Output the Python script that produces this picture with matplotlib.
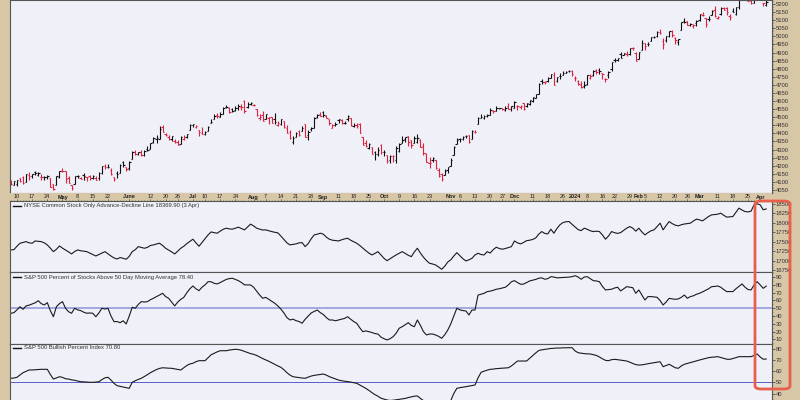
import matplotlib.pyplot as plt
import numpy as np
import pandas as pd
from matplotlib.patches import FancyBboxPatch

plt.rcParams['font.family'] = ['Liberation Sans', 'DejaVu Sans']

# trading calendar, Apr 5 2023 .. Apr 3 2024
holidays = ['2023-04-07', '2023-05-29', '2023-06-19', '2023-07-04', '2023-09-04',
            '2023-11-23', '2023-12-25', '2024-01-01', '2024-01-15', '2024-02-19',
            '2024-03-29']
dates = pd.bdate_range('2023-04-05', '2024-04-03')
dates = dates[~dates.isin(pd.to_datetime(holidays))]

# S&P 500 daily bars (one row per month)
closes = [
    4090, 4105, 4110, 4108, 4092, 4146, 4138, 4151, 4154, 4155, 4130, 4133, 4138, 4071, 4056, 4136, 4169,
    4167, 4120, 4091, 4061, 4136, 4138, 4119, 4138, 4130, 4124, 4136, 4110, 4158, 4198, 4192, 4193, 4146, 4116, 4151, 4205, 4206, 4180,
    4221, 4282, 4273, 4284, 4268, 4294, 4299, 4338, 4369, 4373, 4426, 4410, 4389, 4366, 4381, 4348, 4328, 4378, 4377, 4396, 4450,
    4455, 4446, 4411, 4399, 4410, 4439, 4472, 4510, 4505, 4522, 4555, 4566, 4534, 4536, 4554, 4567, 4566, 4537, 4582, 4589,
    4577, 4513, 4502, 4478, 4518, 4499, 4467, 4468, 4464, 4490, 4437, 4404, 4370, 4370, 4400, 4388, 4436, 4376, 4406, 4433, 4497, 4514, 4508,
    4516, 4497, 4465, 4451, 4457, 4487, 4462, 4467, 4505, 4450, 4454, 4444, 4402, 4330, 4320, 4337, 4274, 4275, 4300, 4288,
    4288, 4229, 4263, 4258, 4308, 4336, 4358, 4376, 4349, 4328, 4373, 4373, 4314, 4278, 4224, 4217, 4248, 4186, 4137, 4117, 4167, 4194,
    4237, 4318, 4358, 4365, 4378, 4383, 4347, 4415, 4411, 4496, 4503, 4509, 4514, 4547, 4538, 4556, 4559, 4550, 4555, 4551, 4568,
    4595, 4569, 4567, 4549, 4585, 4604, 4622, 4644, 4707, 4720, 4719, 4740, 4768, 4698, 4746, 4755, 4775, 4782, 4783, 4770,
    4743, 4705, 4689, 4697, 4764, 4757, 4783, 4780, 4784, 4766, 4739, 4781, 4840, 4851, 4865, 4869, 4894, 4891, 4928, 4925, 4846,
    4906, 4959, 4943, 4954, 4995, 4998, 5027, 5022, 4953, 5001, 5030, 5006, 4976, 4982, 5087, 5089, 5070, 5078, 5069, 5096,
    5137, 5131, 5079, 5105, 5157, 5124, 5118, 5175, 5165, 5150, 5117, 5149, 5179, 5225, 5241, 5234, 5218, 5204, 5248, 5254,
    5243, 5205, 5211,
]
opens = [
    4108, 4082, 4085, 4122, 4131, 4100, 4140, 4137, 4164, 4140, 4130, 4133, 4132, 4126, 4087, 4083, 4129,
    4166, 4165, 4123, 4082, 4085, 4136, 4125, 4144, 4132, 4138, 4127, 4127, 4122, 4155, 4200, 4190, 4176, 4132, 4155, 4156, 4226, 4191,
    4184, 4241, 4282, 4271, 4285, 4268, 4305, 4304, 4345, 4366, 4366, 4440, 4396, 4380, 4365, 4355, 4345, 4337, 4367, 4377, 4422,
    4450, 4442, 4422, 4404, 4395, 4416, 4467, 4492, 4514, 4502, 4521, 4563, 4554, 4550, 4543, 4556, 4565, 4598, 4565, 4584,
    4578, 4550, 4494, 4514, 4491, 4498, 4501, 4487, 4451, 4458, 4478, 4434, 4408, 4345, 4380, 4416, 4415, 4455, 4389, 4426, 4433, 4500, 4518,
    4530, 4510, 4491, 4434, 4452, 4480, 4480, 4462, 4487, 4497, 4446, 4452, 4455, 4375, 4341, 4310, 4313, 4282, 4270, 4328,
    4285, 4269, 4233, 4260, 4235, 4290, 4339, 4366, 4382, 4360, 4342, 4346, 4358, 4321, 4274, 4220, 4236, 4233, 4175, 4152, 4140, 4171,
    4201, 4269, 4335, 4364, 4365, 4385, 4392, 4364, 4406, 4458, 4497, 4497, 4509, 4511, 4538, 4541, 4555, 4555, 4545, 4571, 4549,
    4559, 4570, 4565, 4587, 4568, 4584, 4601, 4618, 4646, 4721, 4720, 4725, 4743, 4764, 4724, 4753, 4758, 4773, 4786, 4783,
    4745, 4725, 4697, 4690, 4703, 4742, 4759, 4793, 4791, 4772, 4739, 4760, 4797, 4853, 4856, 4888, 4886, 4888, 4893, 4925, 4899,
    4862, 4916, 4957, 4950, 4973, 4996, 5005, 5027, 4970, 4977, 5004, 5032, 4990, 4964, 5039, 5094, 5093, 5068, 5067, 5085,
    5098, 5131, 5111, 5108, 5132, 5164, 5111, 5136, 5174, 5176, 5123, 5154, 5140, 5181, 5253, 5243, 5219, 5220, 5204, 5248,
    5257, 5204, 5194,
]
highs = [
    4110, 4108, 4110, 4124, 4134, 4150, 4164, 4152, 4170, 4163, 4148, 4138, 4143, 4127, 4089, 4139, 4170,
    4186, 4165, 4136, 4083, 4139, 4143, 4131, 4154, 4133, 4143, 4141, 4135, 4164, 4199, 4212, 4210, 4186, 4132, 4166, 4213, 4231, 4195,
    4232, 4291, 4300, 4288, 4299, 4299, 4323, 4340, 4375, 4391, 4448, 4449, 4400, 4387, 4382, 4366, 4362, 4385, 4390, 4399, 4458,
    4456, 4452, 4422, 4440, 4413, 4444, 4488, 4517, 4528, 4532, 4562, 4578, 4565, 4555, 4569, 4582, 4583, 4608, 4595, 4594,
    4584, 4551, 4519, 4540, 4520, 4502, 4502, 4528, 4476, 4490, 4478, 4449, 4421, 4382, 4408, 4419, 4444, 4458, 4418, 4440, 4501, 4522, 4532,
    4541, 4514, 4491, 4457, 4473, 4491, 4488, 4479, 4511, 4497, 4466, 4462, 4462, 4375, 4357, 4338, 4314, 4292, 4317, 4333,
    4300, 4269, 4268, 4268, 4324, 4338, 4386, 4378, 4385, 4362, 4384, 4394, 4363, 4339, 4276, 4255, 4255, 4233, 4183, 4156, 4178, 4195,
    4245, 4319, 4373, 4372, 4382, 4391, 4393, 4418, 4421, 4502, 4522, 4512, 4521, 4557, 4542, 4569, 4560, 4560, 4568, 4588, 4569,
    4599, 4576, 4578, 4590, 4591, 4609, 4623, 4645, 4709, 4739, 4725, 4749, 4769, 4778, 4748, 4772, 4785, 4785, 4794, 4789,
    4754, 4730, 4727, 4721, 4764, 4766, 4791, 4798, 4803, 4773, 4745, 4785, 4842, 4868, 4868, 4903, 4898, 4907, 4929, 4932, 4906,
    4906, 4976, 4957, 4964, 4999, 5001, 5031, 5048, 4991, 5003, 5033, 5039, 4994, 4983, 5089, 5112, 5097, 5080, 5075, 5104,
    5140, 5149, 5114, 5127, 5165, 5190, 5125, 5180, 5180, 5179, 5136, 5176, 5180, 5226, 5262, 5246, 5229, 5236, 5249, 5264,
    5263, 5208, 5229,
]
lows = [
    4082, 4079, 4073, 4102, 4086, 4100, 4114, 4124, 4141, 4135, 4114, 4113, 4118, 4071, 4050, 4083, 4127,
    4164, 4095, 4091, 4049, 4085, 4125, 4117, 4109, 4107, 4111, 4117, 4109, 4114, 4150, 4180, 4187, 4144, 4104, 4122, 4154, 4192, 4166,
    4172, 4241, 4266, 4264, 4263, 4263, 4294, 4304, 4338, 4340, 4364, 4407, 4381, 4362, 4351, 4341, 4328, 4336, 4360, 4370, 4422,
    4442, 4433, 4385, 4397, 4389, 4415, 4463, 4489, 4498, 4500, 4519, 4557, 4528, 4531, 4541, 4547, 4547, 4528, 4560, 4578,
    4567, 4505, 4485, 4474, 4491, 4461, 4462, 4458, 4447, 4453, 4431, 4403, 4364, 4336, 4380, 4382, 4412, 4376, 4357, 4417, 4431, 4493, 4507,
    4501, 4496, 4450, 4431, 4448, 4467, 4460, 4455, 4479, 4447, 4442, 4436, 4401, 4329, 4317, 4302, 4273, 4238, 4262, 4274,
    4260, 4220, 4220, 4225, 4219, 4283, 4339, 4346, 4325, 4312, 4342, 4338, 4313, 4269, 4223, 4189, 4225, 4181, 4128, 4103, 4140, 4153,
    4197, 4269, 4334, 4347, 4358, 4374, 4343, 4363, 4402, 4458, 4495, 4487, 4501, 4511, 4525, 4537, 4552, 4547, 4541, 4548, 4538,
    4554, 4547, 4552, 4546, 4565, 4575, 4597, 4617, 4643, 4704, 4705, 4720, 4743, 4697, 4720, 4736, 4758, 4771, 4780, 4752,
    4722, 4700, 4683, 4682, 4700, 4739, 4756, 4769, 4768, 4739, 4715, 4740, 4785, 4844, 4845, 4867, 4882, 4881, 4887, 4916, 4845,
    4860, 4916, 4918, 4938, 4970, 4987, 4995, 5017, 4920, 4963, 4999, 4996, 4955, 4946, 5039, 5081, 5069, 5062, 5052, 5061,
    5094, 5127, 5057, 5093, 5131, 5117, 5105, 5129, 5160, 5131, 5104, 5149, 5133, 5172, 5240, 5229, 5216, 5203, 5204, 5246,
    5229, 5185, 5189,
]

# NYSE common-stock advance-decline line
ad_line = [
    17282, 17290, 17380, 17460, 17480, 17503, 17470, 17460, 17521, 17510, 17503, 17470, 17415, 17330, 17237, 17300, 17388,
    17330, 17280, 17230, 17176, 17240, 17282, 17260, 17250, 17237, 17200, 17160, 17122, 17160, 17200, 17237, 17180, 17120, 17070, 17043, 17080, 17060, 17035,
    17110, 17237, 17290, 17370, 17350, 17327, 17350, 17400, 17415, 17440, 17460, 17400, 17327, 17280, 17230, 17176, 17250, 17327, 17380, 17450, 17510,
    17567, 17470, 17380, 17480, 17580, 17680, 17760, 17740, 17726, 17780, 17830, 17859, 17840, 17833, 17860, 17886, 17850, 17814, 17890, 17966,
    17920, 17860, 17833, 17810, 17814, 17790, 17769, 17750, 17735, 17650, 17560, 17470, 17415, 17430, 17442, 17470, 17476, 17370, 17450, 17580, 17681, 17700, 17726,
    17700, 17620, 17567, 17540, 17530, 17521, 17550, 17575, 17593, 17540, 17500, 17460, 17400, 17330, 17263, 17200, 17149, 17190, 17237, 17150,
    17060, 16997, 17050, 17100, 17150, 17194, 17237, 17190, 17140, 17104, 17230, 17327, 17200, 17090, 17000, 16928, 16910, 16883, 16830, 16769, 16850, 16960,
    17020, 17120, 17210, 17130, 17050, 16990, 17020, 17061, 17150, 17194, 17160, 17149, 17237, 17200, 17290, 17354, 17320, 17301, 17320, 17345, 17370,
    17521, 17470, 17442, 17480, 17529, 17540, 17560, 17600, 17700, 17769, 17720, 17708, 17833, 17726, 17850, 17950, 18008, 18030, 18035, 17960,
    17890, 17820, 17795, 17859, 17830, 17790, 17769, 17780, 17769, 17680, 17567, 17650, 17769, 17740, 17720, 17742, 17800, 17860, 17902, 17860, 17780,
    17859, 17760, 17681, 17740, 17790, 17814, 17900, 17992, 17814, 17930, 18035, 17980, 17940, 17920, 17950, 17970, 17980, 17992, 18050, 18099,
    18080, 18053, 18110, 18170, 18213, 18220, 18230, 18258, 18200, 18152, 18160, 18168, 18280, 18391, 18340, 18301, 18290, 18310, 18480, 18506,
    18479, 18346, 18370,
]

# S&P 500 percent of stocks above 50-day moving average
pct_above_50 = [
    43.6, 44.4, 48, 52, 48.7, 53, 54, 55.5, 57, 59.7, 56, 54.2, 57.2, 47, 39.2, 52, 56,
    58.5, 50, 45.6, 43.6, 50, 48, 47, 45, 43.6, 44, 43.6, 39.2, 44, 50, 49, 50, 40, 32.8, 33, 31.5, 34, 29.9,
    40, 51.3, 50, 55, 58.5, 58, 58.5, 61, 62.8, 65, 67, 69.2, 65, 62.8, 58, 53, 58, 61.5, 64, 70, 75,
    78.6, 75, 72.6, 77, 80, 84.1, 84, 82, 81.2, 83, 85, 87, 88, 88.5, 87, 85.4, 83, 80, 80, 79.9,
    77, 72, 67, 62.8, 64, 61.5, 59, 56.4, 53, 49, 44, 38, 35, 36, 34.1, 33, 30.8, 35.9, 40, 44, 46, 47.8, 44.4,
    42, 38, 35, 35, 34, 35, 36, 37, 39.2, 36, 33, 30.8, 25, 20, 21, 20, 19, 17.5, 17, 13,
    11, 9.4, 11, 13.6, 18, 24.4, 26.4, 29, 31.5, 28, 26.4, 35, 28, 20, 15.8, 17, 17, 15.8, 14, 11.5, 16, 22,
    30, 40, 50, 48, 47, 46.5, 41.4, 47.8, 47.8, 67, 68, 69.2, 71.3, 72, 73, 74.4, 75, 76, 77, 80, 84,
    85.4, 83, 80.8, 81, 83, 85, 86, 87, 88.5, 89, 87.2, 88, 90.5, 90, 89, 89.2, 89.5, 89.7, 90, 90.5,
    91.8, 90, 87.2, 90, 90.5, 88, 85.4, 85, 84.1, 78, 73.5, 74, 74.4, 76, 77, 72.2, 75, 77.7, 77, 76.4, 69.2,
    73.5, 67, 60.6, 64.9, 65, 64.5, 64.1, 60, 54.2, 58, 62.8, 62, 61.5, 62, 64, 67, 62.8, 65, 66, 68,
    69.2, 71, 73, 75, 77.7, 78, 78.6, 77, 74, 71.3, 71.5, 71.3, 75, 78, 81.2, 77, 74, 73.5, 80, 84.1,
    80, 75.6, 78.4,
]

# S&P 500 bullish percent index
bullish_pct = [
    53.6, 53.8, 54.5, 56.5, 58.6, 59.8, 61, 61, 61.2, 61.4, 61.6, 61.6, 61.6, 57, 52.9, 54, 55,
    54.4, 53.2, 52.9, 52.2, 51.8, 51.2, 50.5, 50.4, 50.2, 50, 50, 50.2, 50.5, 52.4, 54, 54.5, 52, 49, 47, 46.4, 45.8, 45.2,
    44.6, 50, 51.4, 52.6, 53.6, 55.2, 56.8, 58.6, 60, 61.4, 62.4, 63, 62.8, 62.6, 62.5, 62, 61.4, 61, 63, 65, 66.4,
    67, 68.4, 69.3, 69.3, 69.3, 72, 74.6, 75.9, 77.2, 78.2, 78.2, 78.2, 78.8, 79.2, 79.5, 79.2, 78.6, 77.6, 76.6, 75.6,
    75, 74, 72.6, 71.2, 70, 68.8, 67.4, 66, 64.6, 63.4, 61.2, 58.6, 56.4, 55, 54.6, 54.2, 53.8, 53.6, 54.6, 55.6, 56.2, 56.6, 57,
    57.4, 56.4, 55, 54, 53, 52, 51.4, 51, 50.6, 50.2, 49.6, 49.1, 47.6, 46, 44.6, 42.8, 40.8, 39, 37.6, 35.8,
    35, 34.2, 33.8, 34, 34.4, 34.8, 35.2, 35.6, 36.4, 37, 37.6, 37.8, 35.6, 33.6, 31.8, 30.4, 29.2, 28.4, 27.8, 27.6, 28.4, 30.6,
    33.6, 40, 44.6, 45.2, 45.6, 46.1, 46.6, 47.2, 47.6, 54, 58.9, 60, 60.8, 61.6, 61.8, 62.2, 62.4, 62.6, 62.8, 63, 64.6,
    66.8, 69, 69, 69, 69, 71.4, 73.8, 76.2, 78.4, 79, 79.4, 79.8, 80.2, 80.4, 80.6, 80.6, 80.8, 80.8, 80.9, 80.9,
    78, 76.4, 76, 75.6, 75.4, 75.3, 74.6, 74, 72.6, 71, 69.6, 69.3, 70.2, 70.5, 70.2, 69.8, 69.4, 69, 68, 66.8, 65.8,
    65.4, 65.6, 66, 66.6, 67, 67.5, 68, 68.4, 63.9, 65, 66.1, 64.6, 63, 62.5, 64.6, 66.1, 66.8, 67.6, 68.4, 69.2,
    69.9, 70.6, 71.4, 72, 72.4, 72.6, 72.9, 72.2, 71.4, 70.6, 70.5, 71.2, 72, 72.9, 72.9, 72.9, 72.9, 72.9, 74, 75.3,
    72.6, 70.6, 70.8,
]

date_labels = [
    ('2023-04-10', '10'), ('2023-04-17', '17'), ('2023-04-24', '24'), ('2023-05-01', 'May'),
    ('2023-05-08', '8'), ('2023-05-15', '15'), ('2023-05-22', '22'), ('2023-06-01', 'June'),
    ('2023-06-12', '12'), ('2023-06-20', '20'), ('2023-06-26', '26'), ('2023-07-03', 'Jul'),
    ('2023-07-10', '10'), ('2023-07-17', '17'), ('2023-07-24', '24'), ('2023-08-01', 'Aug'),
    ('2023-08-07', '7'), ('2023-08-14', '14'), ('2023-08-21', '21'), ('2023-08-28', '28'),
    ('2023-09-01', 'Sep'), ('2023-09-11', '11'), ('2023-09-18', '18'), ('2023-09-25', '25'),
    ('2023-10-02', 'Oct'), ('2023-10-09', '9'), ('2023-10-16', '16'), ('2023-10-23', '23'),
    ('2023-11-01', 'Nov'), ('2023-11-06', '6'), ('2023-11-13', '13'), ('2023-11-20', '20'),
    ('2023-11-27', '27'), ('2023-12-01', 'Dec'), ('2023-12-11', '11'), ('2023-12-18', '18'),
    ('2023-12-26', '26'), ('2024-01-02', '2024'), ('2024-01-08', '8'), ('2024-01-16', '16'),
    ('2024-01-22', '22'), ('2024-01-29', '29'), ('2024-02-01', 'Feb'), ('2024-02-05', '5'),
    ('2024-02-12', '12'), ('2024-02-20', '20'), ('2024-02-26', '26'), ('2024-03-01', 'Mar'),
    ('2024-03-11', '11'), ('2024-03-18', '18'), ('2024-03-25', '25'), ('2024-04-01', 'Apr'),
]

titles = ['NYSE Common Stock Only Advance-Decline Line 18369.90 (3 Apr)',
          'S&P 500 Percent of Stocks Above 50 Day Moving Average 78.40',
          'S&P 500 Bullish Percent Index 70.80']

TAN = '#d7c7a7'
FACE = '#eff0f8'
EDGE = '#555555'
UP = '#111111'
DOWN = '#e0203c'

x = np.arange(len(dates))
o, h, l, c = map(np.array, (opens, highs, lows, closes))
prev = np.concatenate([[o[0]], c[:-1]])
cols = np.where(c < prev, DOWN, UP)

fig = plt.figure(figsize=(8, 4), dpi=100)
fig.patch.set_facecolor(TAN)

L, W = 10 / 800, 762 / 800
XLIM = (-0.3, 250.9)


def style(ax, ylim, major, minor):
    ax.set_facecolor(FACE)
    ax.set_xlim(*XLIM)
    ax.set_ylim(*ylim)
    ax.set_xticks([])
    ax.yaxis.tick_right()
    ax.set_yticks(major)
    ax.set_yticks(minor, minor=True)
    ax.tick_params(axis='y', which='major', length=2, width=0.5, pad=0.5,
                   labelsize=4.2, colors='#333333', direction='out')
    ax.tick_params(axis='y', which='minor', length=1, width=0.4, colors='#555555')
    for s in ax.spines.values():
        s.set_color(EDGE)
        s.set_linewidth(0.8)


# price panel
ax = fig.add_axes([L, 207 / 400, W, 193 / 400])
style(ax, (4031.5, 5224.7), np.arange(4050, 5201, 50), np.arange(4040, 5221, 10))
ax.vlines(x, l, h, colors=cols, lw=0.8)
ax.hlines(o, x - 0.45, x, colors=cols, lw=0.8)
ax.hlines(c, x, x + 0.45, colors=cols, lw=0.8)

# date strip
axd = fig.add_axes([L, 199 / 400, W, 8 / 400])
axd.set_facecolor(TAN)
axd.set_xlim(*XLIM)
axd.set_ylim(0, 1)
axd.set_yticks([])
axd.set_xticks(x, minor=True)
axd.set_xticks([])
axd.tick_params(axis='x', which='minor', length=0.8, width=0.4, colors='#444444',
                direction='in')
for s in axd.spines.values():
    s.set_visible(False)
for d, txt in date_labels:
    i = dates.get_loc(pd.Timestamp(d))
    bold = not txt.isdigit() or txt == '2024'
    axd.text(i, 0.5, txt, ha='center', va='center', fontsize=4,
             fontweight='bold' if bold else 'normal', color='#222222')
    axd.plot([i, i], [0, 0.25], color='#444444', lw=0.4)

# indicator panels
specs = [
    ([L, 128 / 400, W, 71 / 400], ad_line, (16697, 18580),
     np.arange(16750, 18501, 250), np.arange(16700, 18580, 50), None),
    ([L, 56 / 400, W, 72 / 400], pct_above_50, (4.2, 96.5),
     np.arange(10, 91, 10), np.arange(5, 96, 5), ('#a3a8e2', 1.4)),
    ([L, 0, W, 56 / 400], bullish_pct, (34.2, 84.2),
     np.arange(40, 81, 10), np.arange(35, 84, 5), ('#5a5ec8', 0.7)),
]
for k, (rect, vals, ylim, major, minor, mid) in enumerate(specs):
    a = fig.add_axes(rect)
    style(a, ylim, major, minor)
    if mid is not None:
        a.axhline(50, color=mid[0], lw=mid[1], zorder=1)
    a.plot(x, vals, color='#1a1a1a', lw=0.8, zorder=2)
    a.plot([0.004, 0.015], [0.93, 0.93], transform=a.transAxes, color='#111111', lw=1.0)
    a.text(0.019, 0.93, titles[k], transform=a.transAxes, fontsize=4.2,
           color='#333333', va='center', ha='left')
    if k == 2:
        a.spines['bottom'].set_visible(False)

# highlight box around the latest readings
box = FancyBboxPatch((755 / 800, 11 / 400), 35 / 800, 188 / 400,
                     boxstyle='round,pad=0,rounding_size=0.008',
                     transform=fig.transFigure, fill=False,
                     edgecolor='#e8604c', lw=2, zorder=10)
fig.patches.append(box)

fig.savefig('out.png', dpi=100, facecolor=fig.get_facecolor())
